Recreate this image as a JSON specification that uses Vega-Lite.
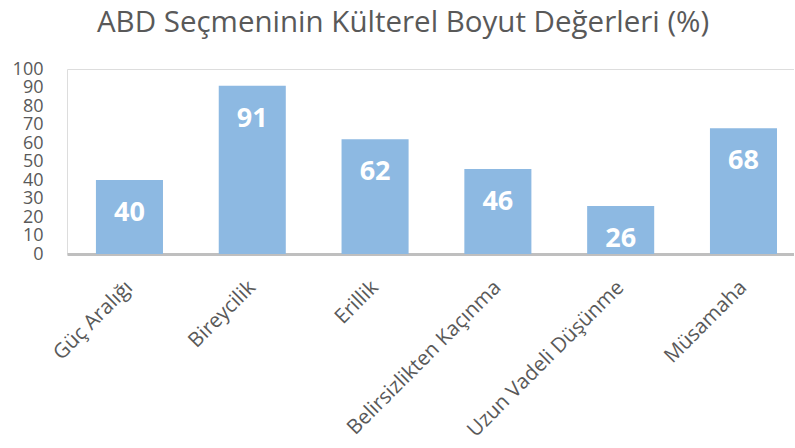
{
  "$schema": "https://vega.github.io/schema/vega-lite/v6.json",
  "width": 727,
  "height": 185,
  "padding": {"left": 12, "top": 7, "right": 0, "bottom": 0},
  "autosize": {"type": "pad"},
  "background": "white",
  "title": {
    "text": "ABD Seçmeninin Külterel Boyut Değerleri (%)",
    "fontSize": 29.5,
    "font": "Open Sans",
    "fontWeight": "normal",
    "color": "#595959",
    "anchor": "middle",
    "frame": "bounds",
    "offset": 22
  },
  "data": {
    "values": [
      {"boyut": "Güç Aralığı", "deger": 40},
      {"boyut": "Bireycilik", "deger": 91},
      {"boyut": "Erillik", "deger": 62},
      {"boyut": "Belirsizlikten Kaçınma", "deger": 46},
      {"boyut": "Uzun Vadeli Düşünme", "deger": 26},
      {"boyut": "Müsamaha", "deger": 68}
    ]
  },
  "encoding": {
    "x": {
      "field": "boyut",
      "type": "nominal",
      "sort": null,
      "scale": {"paddingInner": 0.454, "paddingOuter": 0.187, "align": 0.63},
      "axis": {
        "title": null,
        "labelAngle": -45,
        "labelAlign": "right",
        "labelBaseline": "middle",
        "labelFontSize": 20.5,
        "labelFont": "Open Sans",
        "labelColor": "#595959",
        "labelPadding": 30,
        "labelLimit": 0,
        "ticks": false,
        "domainColor": "#BFBFBF",
        "domainWidth": 3,
        "grid": false
      }
    },
    "y": {
      "field": "deger",
      "type": "quantitative",
      "scale": {"domain": [0, 100]},
      "axis": {
        "title": null,
        "values": [0, 10, 20, 30, 40, 50, 60, 70, 80, 90, 100],
        "labelFontSize": 18,
        "labelFont": "Open Sans",
        "labelColor": "#595959",
        "labelPadding": 24,
        "labelOverlap": false,
        "ticks": false,
        "domain": false,
        "grid": false
      }
    }
  },
  "layer": [
    {"mark": {"type": "bar", "color": "#8DB9E2"}},
    {
      "mark": {
        "type": "text",
        "color": "white",
        "fontSize": 27,
        "fontWeight": "bold",
        "font": "Open Sans",
        "baseline": "middle",
        "dy": 33
      },
      "encoding": {"text": {"field": "deger", "type": "quantitative"}}
    }
  ]
}
